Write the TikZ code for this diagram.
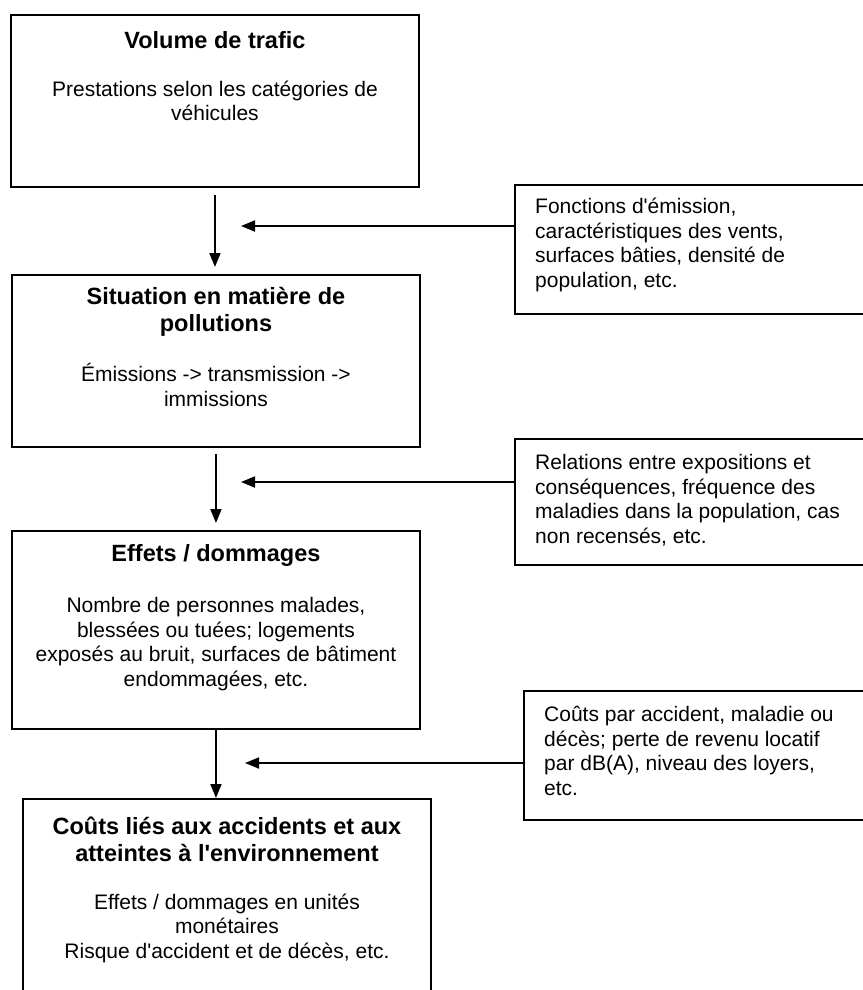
\documentclass[tikz,border=0pt]{standalone}
\usepackage{fontspec}
\setmainfont{Liberation Sans}
\usetikzlibrary{arrows.meta}

\begin{document}
\begin{tikzpicture}[x=1pt, y=-1pt,
  % Box Styles
  mainbox/.style={rectangle, draw, line width=1.9pt, anchor=north west, inner sep=0pt, minimum width=408pt},
  sidebox/.style={rectangle, draw, line width=1.9pt, anchor=north west, inner sep=0pt, minimum width=370pt},
  titletext/.style={align=center, inner sep=0pt, font=\fontsize{23.5}{27}\selectfont\bfseries},
  bodytext/.style={align=center, inner sep=0pt},
  sidetext/.style={align=left, inner sep=0pt, anchor=west},
  % Arrow Styles
  solidarrow/.style={-{Triangle[length=14pt, width=11pt]}, line width=1.8pt}
]
\tikzset{font=\fontsize{21}{24.5}\selectfont}

\useasboundingbox (0,0) rectangle (862,990);

% Main chain
\node[mainbox, minimum height=172pt] (B_1) at (10,14) {};
\node[mainbox, minimum height=172pt] (B_2) at (11,274) {};
\node[mainbox, minimum height=198pt] (B_3) at (11,530) {};
\node[mainbox, minimum height=230pt] (B_4) at (22,798) {};

\node[titletext] (B_1_t) at (B_1.north |- 0,40) {Volume de trafic};
\node[bodytext] (B_1_b) at (B_1.north |- 0,101) {Prestations selon les catégories de \\ véhicules};

\node[titletext] (B_2_t) at (B_2.north |- 0,312) {Situation en matière de \\ pollutions};
\node[bodytext] (B_2_b) at (B_2.north |- 0,385) {Émissions -> transmission -> \\ immissions};

\node[titletext] (B_3_t) at (B_3.north |- 0,555) {Effets / dommages};
\node[bodytext] (B_3_b) at (B_3.north |- 0,644) {Nombre de personnes malades, \\ blessées ou tuées; logements \\ exposés au bruit, surfaces de bâtiment \\ endommagées, etc.};

\node[titletext] (B_4_t) at (B_4.north |- 0,839) {Coûts liés aux accidents et aux \\ atteintes à l\textquotesingle environnement};
\node[bodytext] (B_4_b) at (B_4.north |- 0,928) {Effets / dommages en unités \\ monétaires \\ Risque d\textquotesingle accident et de décès, etc.};

% Side boxes
\node[sidebox, minimum height=129pt] (S_1) at (514,184) {};
\node[sidebox, minimum height=126pt] (S_2) at (514,438) {};
\node[sidebox, minimum height=129pt] (S_3) at (523,690) {};

\node[sidetext] (S_1_t) at (535,245) {Fonctions d\textquotesingle émission, \\ caractéristiques des vents, \\ surfaces bâties, densité de \\ population, etc.};
\node[sidetext] (S_2_t) at (535,500) {Relations entre expositions et \\ conséquences, fréquence des \\ maladies dans la population, cas \\ non recensés, etc.};
\node[sidetext] (S_3_t) at (544,751) {Coûts par accident, maladie ou \\ décès; perte de revenu locatif \\ par dB(A), niveau des loyers, \\ etc.};

% Arrows
\coordinate (H_1) at (241,226);
\coordinate (H_2) at (241,482);
\coordinate (H_3) at (245,763);

\draw[solidarrow] ([yshift=-7pt]B_1.south) -- ([yshift=7pt]B_1.south |- B_2.north);
\draw[solidarrow] ([yshift=-6pt]B_2.south) -- ([yshift=7pt]B_2.south |- B_3.north);
\draw[solidarrow] (B_3.south) -- (B_3.south |- B_4.north);

\draw[solidarrow] (H_1 -| S_1.west) -- (H_1);
\draw[solidarrow] (H_2 -| S_2.west) -- (H_2);
\draw[solidarrow] (H_3 -| S_3.west) -- (H_3);

\end{tikzpicture}
\end{document}
